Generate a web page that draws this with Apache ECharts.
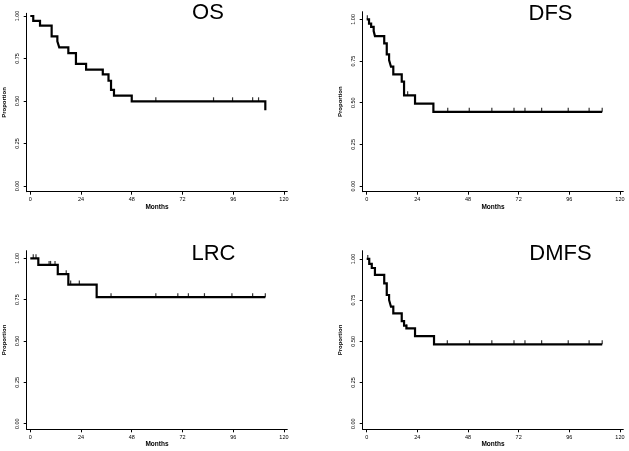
<!DOCTYPE html>
<html><head><meta charset="utf-8">
<script src="https://cdn.jsdelivr.net/npm/echarts@6/dist/echarts.min.js"></script>
<style>html,body{margin:0;padding:0;background:#fff}#c{width:629px;height:451px}</style>
</head><body><div id="c"></div>
<script>
// ---- data ----
const monthTicks = [0, 24, 48, 72, 96, 120];
const propTicks = [0, 0.25, 0.5, 0.75, 1];
const yTickLabels = ['0.00', '0.25', '0.50', '0.75', '1.00'];

const osTimes = [0, 1.4, 4.6, 10.1, 12.8, 13.7, 18.0, 21.6, 26.4, 34.3, 37.0, 38.2, 39.6, 48.0, 111.2];
const osSurv  = [1, 0.972, 0.944, 0.880, 0.851, 0.815, 0.782, 0.718, 0.684, 0.657, 0.619, 0.565, 0.532, 0.498, 0.446];
const osCensor = [59.4, 86.7, 95.7, 105.2, 108.0];

const dfsTimes = [0, 1.1, 2.1, 3.3, 3.9, 8.3, 9.5, 10.6, 11.5, 12.6, 16.6, 17.7, 22.9, 31.6, 111.6];
const dfsSurv  = [1, 0.975, 0.955, 0.93, 0.90, 0.856, 0.79, 0.756, 0.716, 0.67, 0.626, 0.544, 0.494, 0.445, 0.445];
const dfsCensor = [0.3, 19.4, 38.4, 48.6, 59.3, 69.8, 75.0, 82.9, 95.5, 105.4, 111.6];

const lrcTimes = [0, 3.8, 13.0, 18.0, 31.4, 111.2];
const lrcSurv  = [1, 0.96, 0.904, 0.841, 0.765, 0.765];
const lrcCensor = [1.4, 2.7, 8.9, 9.6, 11.7, 17.0, 19.1, 23.2, 38.2, 59.4, 69.8, 74.8, 82.4, 95.4, 105.2, 111.2];

const dmfsTimes = [0, 1.2, 2.4, 3.9, 8.3, 9.5, 10.6, 11.5, 12.6, 16.6, 17.7, 18.8, 22.9, 31.9, 111.6];
const dmfsSurv  = [1, 0.97, 0.945, 0.903, 0.852, 0.781, 0.751, 0.71, 0.67, 0.623, 0.595, 0.578, 0.532, 0.482, 0.482];
const dmfsCensor = [0.5, 18.9, 38.2, 48.7, 59.3, 69.8, 75.0, 82.9, 95.5, 105.4, 111.6];

const panelTitles = ['OS', 'DFS', 'LRC', 'DMFS'];

// ---- build ----
const curves = [
  {t: osTimes, s: osSurv, c: osCensor},
  {t: dfsTimes, s: dfsSurv, c: dfsCensor},
  {t: lrcTimes, s: lrcSurv, c: lrcCensor},
  {t: dmfsTimes, s: dmfsSurv, c: dmfsCensor}
];
const layout = [
  {grid: {left: 26.7, top: 13.3, width: 260.6, height: 178.4}, xmin: -1.7, ymax: 1.016, title: [208, 13]},
  {grid: {left: 362.7, top: 11.7, width: 260.6, height: 180}, xmin: -1.9, ymax: 1.046, title: [550.5, 13.5]},
  {grid: {left: 26.7, top: 250.7, width: 260.6, height: 178.6}, xmin: -1.7, ymax: 1.046, title: [213.5, 254]},
  {grid: {left: 362.7, top: 250.7, width: 260.6, height: 178.6}, xmin: -1.9, ymax: 1.05, title: [560.5, 254]}
];
function survAt(times, surv, t) {
  let v = surv[0];
  for (let i = 0; i < times.length; i++) if (times[i] <= t) v = surv[i];
  return v;
}
const FONT = 'Liberation Sans Narrow, Arial Narrow, Liberation Sans, Arial, sans-serif';
const grids = [], xAxes = [], yAxes = [], series = [], graphics = [];
curves.forEach((cv, i) => {
  const L = layout[i];
  grids.push(L.grid);
  xAxes.push({
    type: 'value', gridIndex: i, min: L.xmin, max: 121.6,
    name: 'Months', nameLocation: 'middle', nameGap: 10,
    nameTextStyle: {fontSize: 6.5, fontWeight: 'bold', color: '#000', fontFamily: FONT},
    axisLine: {show: true, onZero: false, lineStyle: {color: '#000', width: 1}},
    axisTick: {show: true, length: 3, customValues: monthTicks, lineStyle: {color: '#000'}},
    axisLabel: {customValues: monthTicks, fontSize: 5.5, color: '#000', margin: 5, fontFamily: FONT},
    splitLine: {show: false}
  });
  yAxes.push({
    type: 'value', gridIndex: i, min: -0.034, max: L.ymax,
    name: 'Proportion', nameLocation: 'middle', nameGap: 19,
    nameTextStyle: {fontSize: 6, fontWeight: 'bold', color: '#000', fontFamily: FONT},
    axisLine: {show: true, onZero: false, lineStyle: {color: '#000', width: 1}},
    axisTick: {show: true, length: 3, customValues: propTicks, lineStyle: {color: '#000'}},
    axisLabel: {customValues: propTicks, rotate: 90, fontSize: 5.5, color: '#000', margin: 6, fontFamily: FONT,
      formatter: v => yTickLabels[propTicks.indexOf(Math.round(v * 100) / 100)] || ''},
    splitLine: {show: false}
  });
  series.push({
    type: 'line', xAxisIndex: i, yAxisIndex: i, step: 'end', showSymbol: false, symbol: 'none',
    data: cv.t.map((t, k) => [t, cv.s[k]]),
    lineStyle: {color: '#000', width: 2.2, join: 'miter'}, animation: false, z: 3
  });
  series.push({
    type: 'scatter', xAxisIndex: i, yAxisIndex: i, symbol: 'rect', symbolSize: [1.2, 4], symbolOffset: [0, -2],
    itemStyle: {color: '#000'},
    data: cv.c.map(t => [t, survAt(cv.t, cv.s, t)]), animation: false, z: 4
  });
  graphics.push({
    type: 'text', x: L.title[0], y: L.title[1],
    style: {text: panelTitles[i], fontSize: 22, fontFamily: 'Liberation Sans, Arial, sans-serif', fill: '#000',
      textAlign: 'center', textVerticalAlign: 'middle'}
  });
});
const chart = echarts.init(document.getElementById('c'), null, {renderer: 'canvas'});
chart.setOption({
  backgroundColor: '#fff', animation: false,
  grid: grids, xAxis: xAxes, yAxis: yAxes, series: series, graphic: graphics
});
</script></body></html>
